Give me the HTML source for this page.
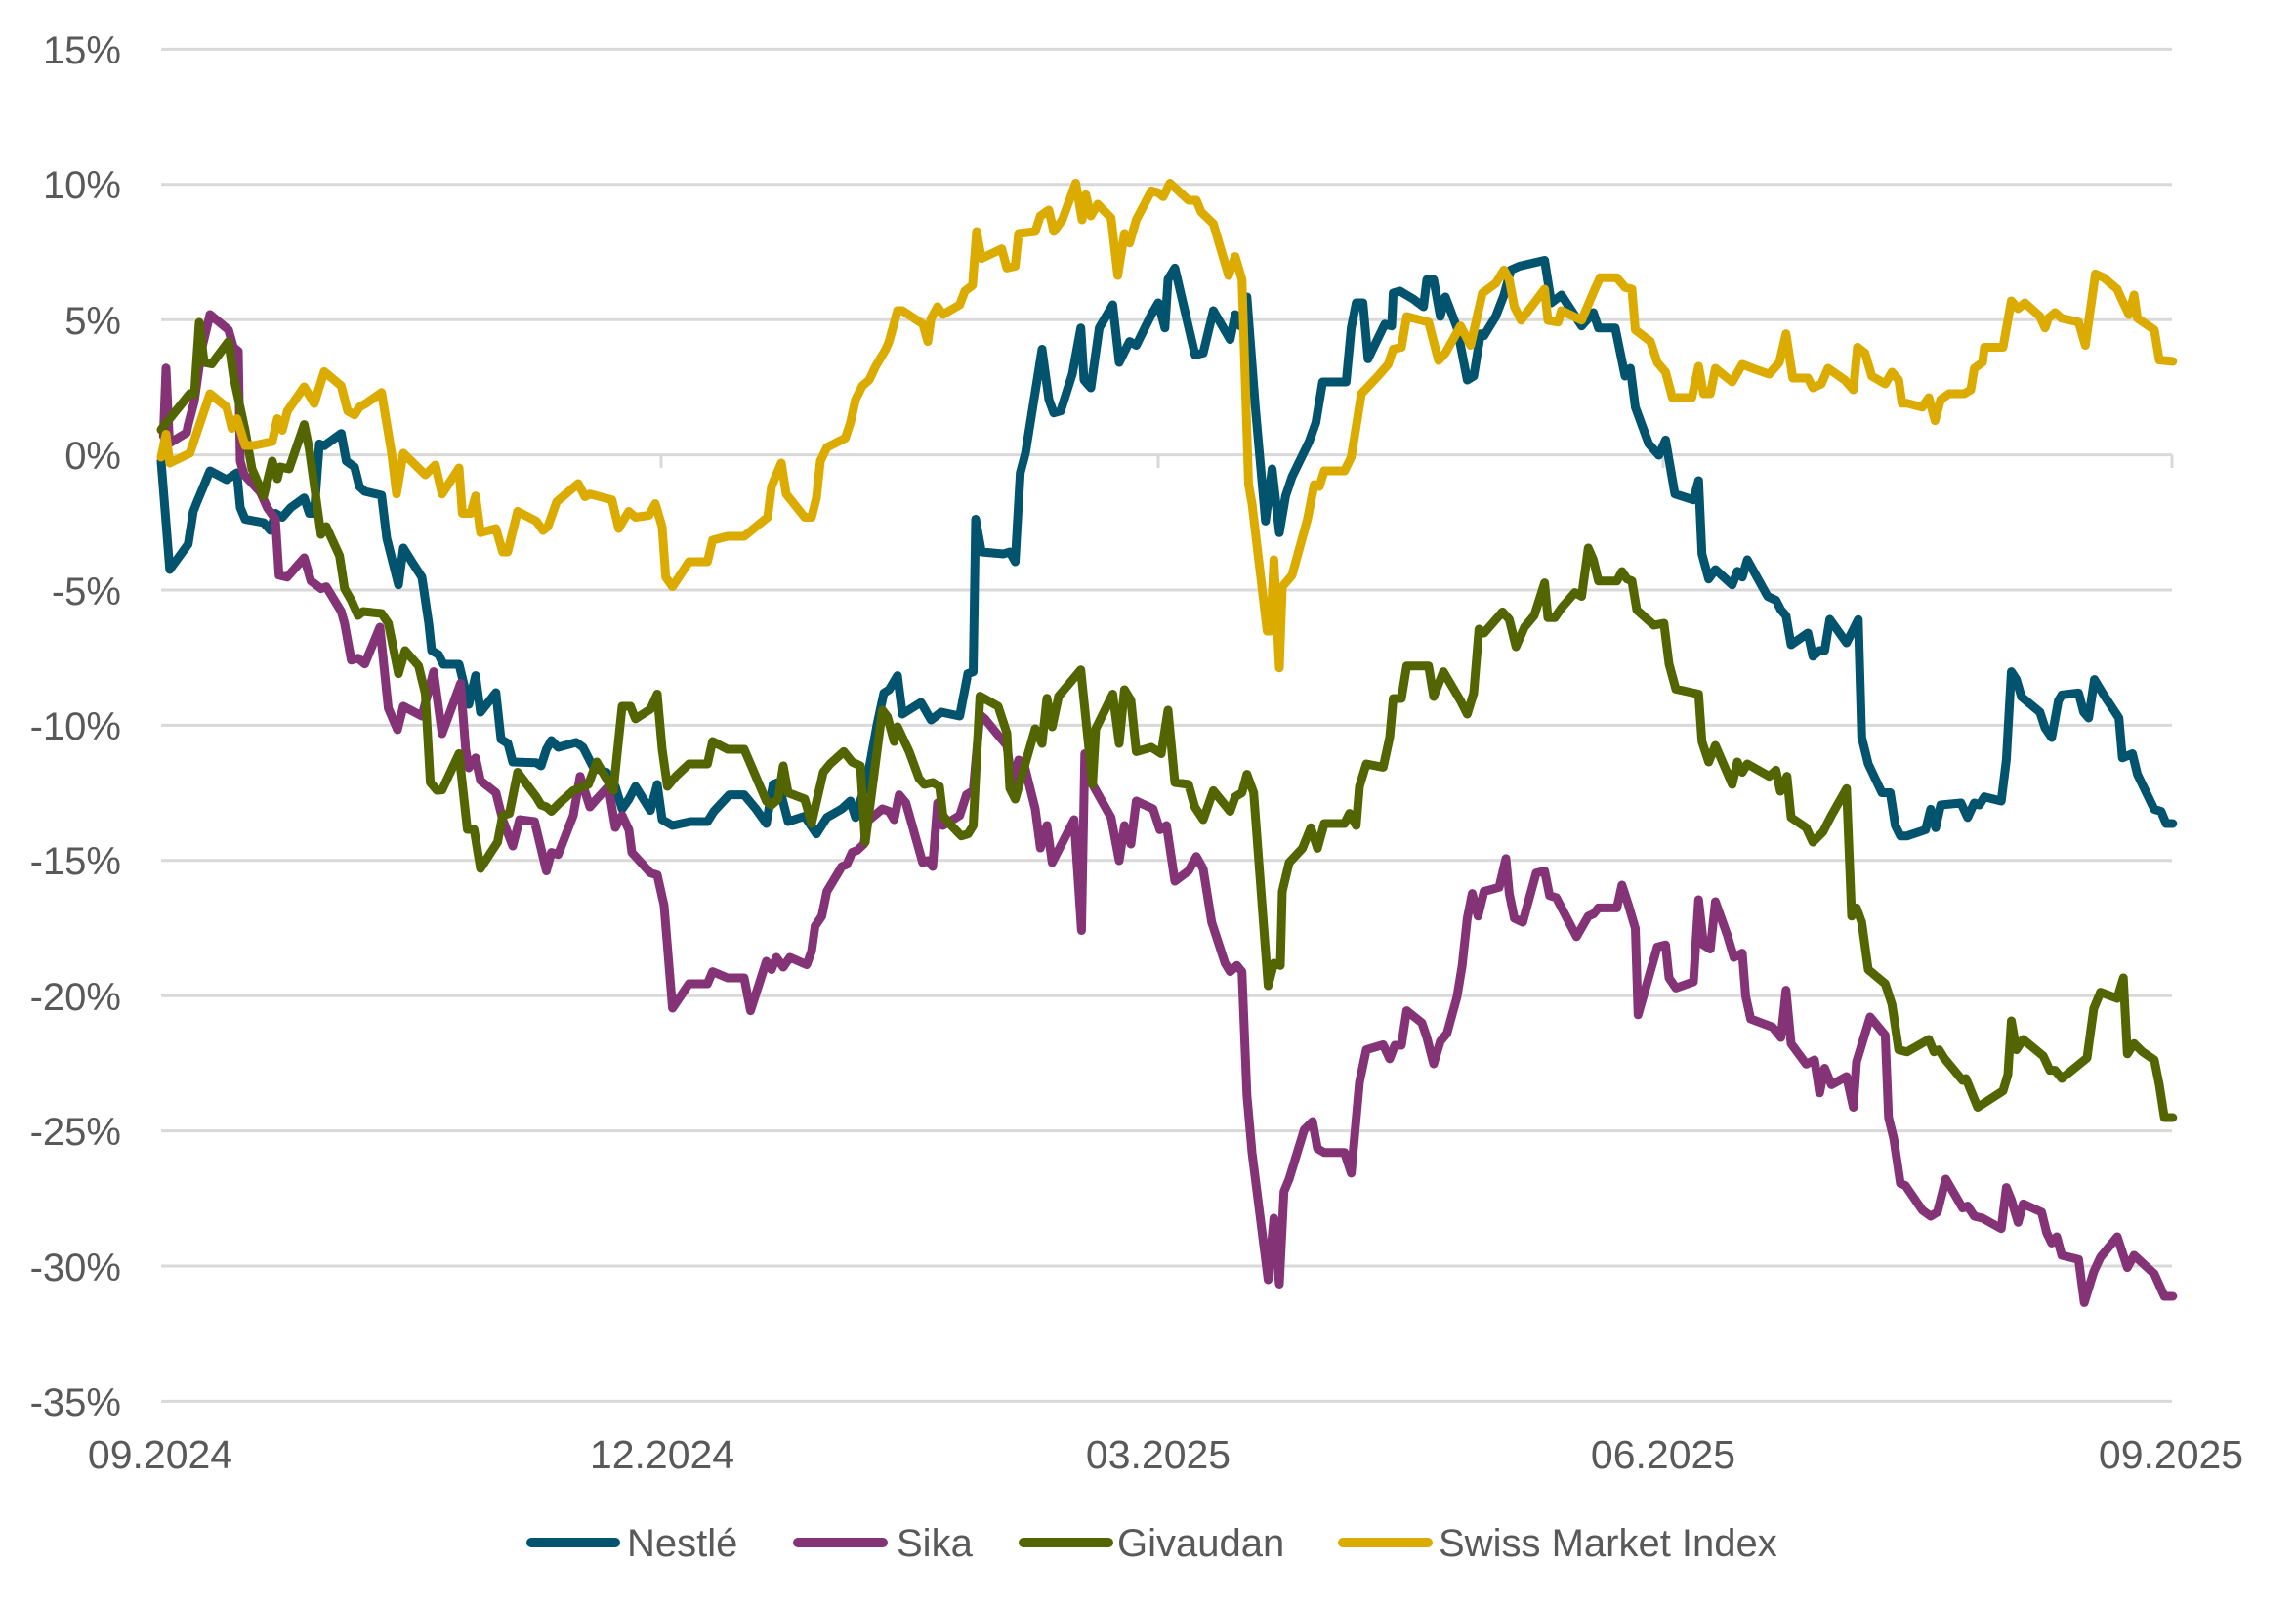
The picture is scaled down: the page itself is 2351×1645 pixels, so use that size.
<!DOCTYPE html>
<html><head><meta charset="utf-8"><style>
html,body{margin:0;padding:0;background:#fff;}
svg{display:block;}
text{font-family:"Liberation Sans",Arial,sans-serif;fill:#595959;}
</style></head><body>
<svg width="2351" height="1645" viewBox="0 0 2351 1645" xmlns="http://www.w3.org/2000/svg">
<rect width="2351" height="1645" fill="#fff"/>
<g stroke="#d9d9d9" stroke-width="3">
<line x1="165" y1="50.4" x2="2224" y2="50.4"/>
<line x1="165" y1="188.8" x2="2224" y2="188.8"/>
<line x1="165" y1="327.2" x2="2224" y2="327.2"/>
<line x1="165" y1="465.6" x2="2224" y2="465.6"/>
<line x1="165" y1="604" x2="2224" y2="604"/>
<line x1="165" y1="742.4" x2="2224" y2="742.4"/>
<line x1="165" y1="880.8" x2="2224" y2="880.8"/>
<line x1="165" y1="1019.2" x2="2224" y2="1019.2"/>
<line x1="165" y1="1157.6" x2="2224" y2="1157.6"/>
<line x1="165" y1="1296" x2="2224" y2="1296"/>
<line x1="165" y1="1434.4" x2="2224" y2="1434.4"/>
<line x1="165" y1="465.6" x2="165" y2="479"/>
<line x1="677" y1="465.6" x2="677" y2="479"/>
<line x1="1186" y1="465.6" x2="1186" y2="479"/>
<line x1="1703" y1="465.6" x2="1703" y2="479"/>
<line x1="2224" y1="465.6" x2="2224" y2="479"/>
</g>
<g font-size="40" text-anchor="end">
<text x="124" y="65">15%</text>
<text x="124" y="203">10%</text>
<text x="124" y="342">5%</text>
<text x="124" y="480">0%</text>
<text x="124" y="619">-5%</text>
<text x="124" y="757">-10%</text>
<text x="124" y="895">-15%</text>
<text x="124" y="1034">-20%</text>
<text x="124" y="1172">-25%</text>
<text x="124" y="1311">-30%</text>
<text x="124" y="1449">-35%</text>
</g>
<g font-size="41" text-anchor="middle">
<text x="164" y="1503">09.2024</text>
<text x="678" y="1503">12.2024</text>
<text x="1186" y="1503">03.2025</text>
<text x="1703" y="1503">06.2025</text>
<text x="2223" y="1503">09.2025</text>
</g>
<g fill="none" stroke-width="9" stroke-linejoin="round" stroke-linecap="round">
<polyline stroke="#02536d" points="165,472 173.8,583 192.7,557 197.9,523.5 201,515.6 215,482 232,491 242.6,484 246,519.6 251,531.5 270,535 277,543 282,525.5 289,529.5 297.7,519.6 311.5,509.7 316.7,525.5 321.8,525.5 327,454.4 332,456.3 349.4,443.7 354.6,472 363,478 368,498 373.5,503 390.7,507 396,551 408,598.7 413,561 421.7,575 432,590.8 439,638 442,666 449,670 454,680 470,680 480,721 487,691.6 492,729 507.8,709 513,756.8 520,761 525,780 549,780.8 554,784 559.5,767 564.6,758 571.5,765 590,760 597,765 607.7,786 621,790.5 630,805 637,828 644,818 650.7,805 666,829.6 673,803 678,839 688.6,845 707,841 724.4,841 731,830.5 746.8,813.6 762,813.6 774,828 784.7,843 791.6,803 796.7,801 807,841 824,835.5 836,853.6 846.7,836.8 862,828 870.8,820 876,836.8 888,796.8 898,742 905,709.4 910.4,706 919,691.6 924,731 943,719 953.4,737 963.8,729 982.7,733 991,689.6 996.5,687.6 999,531.5 1005,565 1027.5,567 1034,565 1039.5,575 1044.7,484 1050,464 1067,357.5 1074,409 1079,422.7 1086,420.7 1098,383 1106.7,335.7 1110,389 1117,397 1125.6,335.7 1139.4,312 1146,371 1156.6,349.6 1163.5,353.5 1179,322 1186,310 1192.8,335.7 1196,286 1203,274.4 1223.7,363.4 1232,361.4 1242.4,318 1259.6,347.6 1264.8,322 1270,333.7 1276.8,304 1285.4,416.8 1295.8,533.4 1302.6,480 1310,545.3 1316.4,507.7 1323,488 1340.5,452 1347.4,432.6 1354.3,391 1378.4,391 1383.6,335.7 1388.7,310 1395.6,310 1400.8,367.4 1418,331.8 1425,333.7 1426.6,300 1433.5,298 1447,306 1457.6,314 1461,286.3 1468,286.3 1474.8,323.9 1480,304 1492,335.7 1502.4,389 1509,385 1516,341.7 1519.6,343.6 1531.6,323.9 1540,302 1547,276.4 1555.7,272.5 1581.6,266.5 1588.5,310 1598.8,302 1619.5,333.7 1631.5,320 1636.7,335.7 1653.9,335.7 1664,385 1669.4,377 1674.5,416.8 1688.3,454.4 1698.6,466 1705.5,450.4 1715,505.7 1734,511.7 1739.3,492 1742.7,567 1749.6,592.7 1756.5,583 1773.7,598.7 1779,584.8 1784,590.8 1789.2,573 1810,610.5 1818.5,614.5 1823.6,624.4 1828.8,630.3 1834,660 1851.2,648 1856.3,671.8 1863.2,666 1868.4,666 1873.6,634 1890.8,658 1902.8,634.3 1906.3,754.7 1913,782 1927,811.5 1935.5,811.5 1940.7,845 1945.9,855.7 1952.8,855.7 1971.7,849.4 1976.9,828.4 1982,847.3 1987.2,824 2007.9,822 2014.8,836.8 2021.6,822 2026.8,824 2032,815.7 2049.2,820 2054.4,777.9 2059.5,687.6 2064.7,695.6 2069.9,713.3 2088.8,729 2094,745 2100.8,755 2107.7,717.3 2111.2,711.4 2128.4,709.4 2133.6,729 2138.7,735 2144.6,695.6 2154.2,711.4 2169.7,735 2173.2,775.8 2183.5,771.5 2188.6,792.6 2205.9,828.4 2212.8,830.5 2218,843 2224.8,843"/>
<polyline stroke="#843476" points="167.3,446.4 170,376.8 173.5,453.6 191,443 192.7,434.6 199,410.7 206.6,357 215,322 234,337.7 239,355.5 244,359.5 246,472 250,486 266.7,504 273.6,519.6 282,531.5 285.7,588.8 294,590.8 311.5,571 318.4,594.7 328.7,602.6 334,600.6 349.4,626 352.8,638 359.7,675.8 366.6,673.8 373.5,679.7 389,642 397.6,725 407,747 413,723 432,733 444,687.6 452.7,751 471.6,699.5 476.8,767 480,786 487,775.8 492,799 507.8,811.5 514.7,839 525,866 532,839 547.4,841 559.5,891.5 564.6,872.6 571.5,874.7 587,834.7 594,794.7 604,826 611,818 623,805 630,847 637,834.7 644,849.4 647,872.6 666,893.6 673,895.7 680,927 688.6,1032 705.5,1007 724.4,1007 729.6,994.6 745,1001 762,1001 768.5,1034.6 784.7,984 790,992.5 795,980 802,990 808.8,980 826,987.5 831,973.6 834.6,948 841.5,937.8 846.7,912.5 862,887 867,885 872.5,872.6 877.7,870.5 884.6,864 888,841 893,836.8 903.5,828 910.4,830.5 915.5,839 920.7,813.6 927.6,822 944.8,883 950,881 955,887 960,822 965.5,845 975.8,839 982.7,834.7 989.6,813.6 996.5,809.4 1003.4,731.6 1008.5,735.8 1022,752.6 1031,763 1036,801 1043,778 1048,780 1060,828 1065.3,868 1072,845 1077.4,883 1099.8,839 1107.4,952.5 1110.8,771.5 1118.7,803 1137.7,836.8 1146,881 1151.4,845 1158,864 1163.5,820 1180.7,828 1187.6,849.4 1194.5,845 1203,902 1217,891.5 1225,876.8 1232,889.4 1240.7,944 1254.4,986 1259.6,994.6 1266.5,988.3 1271.7,994.6 1276.8,1121 1282,1179.8 1298.5,1310 1304.4,1247 1310,1314.5 1314.7,1219.8 1320,1207 1335.4,1156.6 1344,1148 1349,1175.6 1356,1179.8 1376.7,1179.8 1383.6,1200.8 1392,1108 1399,1074.6 1416.3,1069.5 1423,1083.8 1428.3,1070 1435,1070 1440.4,1034.6 1455.9,1047 1461,1062 1468,1089 1474.8,1066 1481.7,1057.7 1492,1020 1497.2,988.3 1502.4,940 1507.5,914.6 1513.4,937.8 1519.6,912.5 1535,908.3 1542,878.9 1545.4,914.6 1550.6,940 1559.2,944 1573,893.6 1581.6,891.5 1586.7,916.7 1593.6,918.9 1614.3,958.8 1626.3,937.8 1631.5,935.7 1636.7,929.4 1655.6,929.4 1660.8,906 1667.7,927.3 1674.5,950.4 1677.3,1038.8 1697,969.4 1705.5,967.3 1709,1001 1716,1011.4 1734,1005 1739.3,921 1744.4,967.3 1751.3,971.5 1756.5,923 1768.5,956.7 1775.4,980 1784,975.7 1787.5,1019.9 1792.6,1043 1815,1051.4 1823.6,1062 1828.8,1013.6 1834,1068.3 1849.5,1089.3 1858,1085 1863.2,1118.8 1868.4,1093.5 1875.3,1110.4 1890.8,1102 1897.7,1133.5 1901,1087 1914.9,1041 1930.4,1059.8 1933.8,1144 1939,1165 1945.9,1211.4 1951,1213.5 1968.3,1238.7 1976.9,1245 1983.8,1240.8 1992.4,1207 2009.6,1236.6 2014.8,1234.5 2021.6,1245 2030,1247 2049.2,1257.7 2054.4,1215.6 2059.5,1228.2 2066.4,1251.3 2071.6,1232.4 2090.5,1240.8 2095.7,1261.9 2100.8,1272.4 2106,1266 2111.2,1285 2128.4,1289.2 2134.2,1333.4 2143.9,1301.9 2150.8,1287 2168,1266 2178.3,1297.6 2185.2,1285 2205.9,1304 2216.2,1327 2224.8,1327"/>
<polyline stroke="#526500" points="165,440 168,435.7 194.4,403 199,403.6 204,330 209,371 216.8,372.5 234,349.6 239,385 251,440.5 258,480 270,507.7 278.8,472 284,490 287,478 296,480 311.5,434.6 316.7,460 328.7,547 334,539 347.7,569 352.8,602.6 359.7,614.5 366.6,630 371.8,626 390.7,628 397.6,638 408,689.6 414.8,666 428.6,681.7 435.5,710 440.6,801 447.5,809 452.7,808.6 470,771.5 478.5,849 485.4,849 492,889 509.5,862 514.7,834.7 521.6,832.6 530,790.5 549,815.7 554,824 559.5,826 564.6,830.5 573,822 587,809.4 602.5,803 611,780 628,809.4 637,723 645.5,723 650.7,735.8 666,726 673,710.5 678,767 683.4,805 692,794.7 705.5,782 724.4,782 729.6,759 745,767 762,767 784.7,820 790,824 796.7,818 802,784 807,811.5 824,818 831,843 843,790.5 850,782 864,769.4 872.5,780 881,784 886,862 903.5,727 908.7,733.7 915.5,759 919,744 931,769.4 941,796.8 946.5,803 955,801 962,805 965.5,834.7 974,845 984.4,855.7 991.3,853.6 996.5,845 1003.4,712.6 1022,723 1031,750.5 1034,807 1039.5,818 1060,746 1067,761 1072,714.7 1077.4,744 1084,712.6 1106.7,685.7 1118.7,803 1122,746 1139.4,710.5 1146,761 1151.4,706 1158,717 1163.5,769.4 1179,765 1189,771.5 1196,727 1203,801 1217,803 1223.4,826 1232,839 1242.4,809.4 1259.6,830.5 1264.8,815.7 1271.7,811.5 1276.8,792.6 1283.7,811.5 1298.5,1009 1304.4,986 1311,988.3 1313,912.5 1320,883 1333.6,868.4 1342.2,847.3 1349,868.4 1356,843 1376.7,843 1381.8,832.6 1388.7,845 1392,805 1399,782 1416.3,785.4 1423,754.7 1426.6,715 1435,715 1440.4,681.7 1462.8,681.7 1468,713 1478,687.6 1495.5,717.3 1502.4,731 1509,709.4 1514.4,644 1519.6,648 1538.5,626.4 1545.4,634 1552.3,662 1561,642 1571,630 1581.6,596.7 1585,632.3 1592,632.3 1598.8,622.4 1612.6,606.6 1619.5,610.5 1626.3,561 1631.5,573 1636.7,594.7 1655.6,594.7 1660.8,585 1666,592.7 1671,594.7 1676,624.4 1693.5,640 1703.8,638 1709,679.7 1716,705.4 1739.3,710.5 1742.7,759 1749.6,780 1756.5,763 1773.7,803 1779,780 1784,790.5 1789.2,782 1811.6,794.7 1818.5,788.4 1823,810 1829.8,794.7 1834,836.8 1849.5,847.3 1856.3,862 1866.7,851.5 1875.3,834.7 1890.8,807.3 1896,937.8 1901,929.4 1906.3,944 1913,992.5 1930.4,1007 1937.3,1028.3 1944.2,1074.6 1952.8,1076.7 1975,1064 1980.3,1076.7 1985.5,1074.6 1990.6,1083 2009.6,1106 2013,1104 2025,1133.5 2051,1116.7 2056,1099.8 2059.5,1045 2064.7,1074.6 2071.6,1064 2092.2,1081 2099,1095.6 2104.3,1095.6 2111.2,1104 2137,1083 2143.9,1032.5 2150.8,1015.6 2168,1022 2174.2,1001 2178.3,1078.8 2185.2,1068.3 2193.8,1076.7 2205.9,1085 2211,1110.4 2216.2,1144 2224.8,1144"/>
<polyline stroke="#dcab00" points="165,468 170,444.5 173.8,474 194.4,464 215,403 232,416.8 237.5,438.5 242.6,428.6 251,456 260,456 278.8,452 284,428.6 289,440.5 294.3,420.7 311.5,396 321.8,413 332,380.4 349.4,395 356,420.7 363,424.7 368,416.8 375,412.8 390.7,401.8 401,464 406,505.7 413,464 435.5,486 445.8,476 452.7,505.7 470,479 473.4,525.5 482,525.5 487,507.7 492,545.3 507.8,541 514.7,565 519.8,565 530,523.5 549,533.4 556,543 561,539 570,513.7 592,495 599,508.5 604,505.7 626.6,511.7 633.5,541 643.8,523.5 650.7,529.5 664.5,527.5 671,515.6 678,539.4 681.7,590.8 688.6,600.6 705.5,575 724.4,575 729.6,553 745,549 762,549 786,529.5 790,498 800,474 805,505.7 824,529.5 831,529.5 836,509.7 840,472 846.7,458 865.6,448.4 870.8,432.6 876,409 883,395 890,389 896.6,375 907,357.5 910.4,349.6 919,318 924,318 945,331.8 950,349.6 953.4,326 960,314 965.5,322 982.7,312 988,298 995.8,292 1000,237 1005,264.6 1025.7,254.7 1031,274.4 1039.5,272.5 1043,239 1060,237 1065.3,221 1074,215 1079,237 1087.7,225 1101.5,187.5 1108,225 1111.8,199.3 1117,221 1124,209 1137.7,223 1144.5,282 1151.4,239 1156.6,248.7 1163.5,225 1179,195.4 1186,197.3 1191,201.3 1198,187.5 1217,205 1225,205 1230,217 1242.4,229 1258,282 1264.8,262.6 1271.7,286 1278.5,496 1282,515.6 1297.5,646 1301,646 1304.4,573 1310,683.7 1313,600.6 1323,588.8 1338.8,531.5 1345.7,496 1351,498 1356,482 1376.7,482 1383.6,468 1394,403 1411,385 1421.4,373 1426.6,357.5 1435,355.5 1440.4,324 1462.8,329.8 1473,369 1480,361.4 1495.5,333.7 1505.8,353.5 1517.9,300 1531.6,290 1540,276.4 1545.4,286.3 1550.6,314 1557.5,327.8 1581.6,296 1585,327.8 1595.4,329.8 1598.8,318 1619.5,327.8 1633,296 1638.4,284.3 1655.6,284.3 1664,294.2 1671,296 1674.5,337.7 1690,349.6 1697,371 1705.5,381 1712.4,407 1732.4,407 1739.3,375 1744.4,403 1751.3,403 1756.5,377 1773.7,391 1784,373 1794.4,377 1811.6,383 1822,371 1828.8,341.7 1835.7,387 1851.2,387 1856.3,397 1865,393 1871.8,377 1889,389 1897.7,399 1902,355.5 1909.7,361.4 1916.6,385 1930.4,393 1937.3,381 1944.2,389 1947.6,412.8 1952.8,412.8 1968.3,416.8 1975,407 1981.4,430.6 1987.2,408.9 1995.8,403 2011.3,403 2018,399 2021.6,377 2030,371 2032,355.5 2051,355.5 2059.5,308 2066.4,316 2073.3,310 2088.8,323.9 2094,335.7 2097.4,325.8 2104.3,320 2111,325.8 2128.4,329.8 2135.3,353.5 2145.6,280.4 2154.2,284.3 2168,296 2171.4,304 2180,322 2185.2,302 2188.6,325.8 2205.9,337.7 2211,368.5 2224.8,370"/>
</g>
<g stroke-width="10" stroke-linecap="round">
<line x1="544" y1="1579" x2="630" y2="1579" stroke="#02536d"/>
<line x1="817" y1="1579" x2="904" y2="1579" stroke="#843476"/>
<line x1="1048" y1="1579" x2="1135" y2="1579" stroke="#526500"/>
<line x1="1375" y1="1579" x2="1462" y2="1579" stroke="#dcab00"/>
</g>
<g font-size="40">
<text x="642" y="1593">Nestlé</text>
<text x="918" y="1593">Sika</text>
<text x="1144" y="1593">Givaudan</text>
<text x="1473" y="1593">Swiss Market Index</text>
</g>
</svg>
</body></html>
